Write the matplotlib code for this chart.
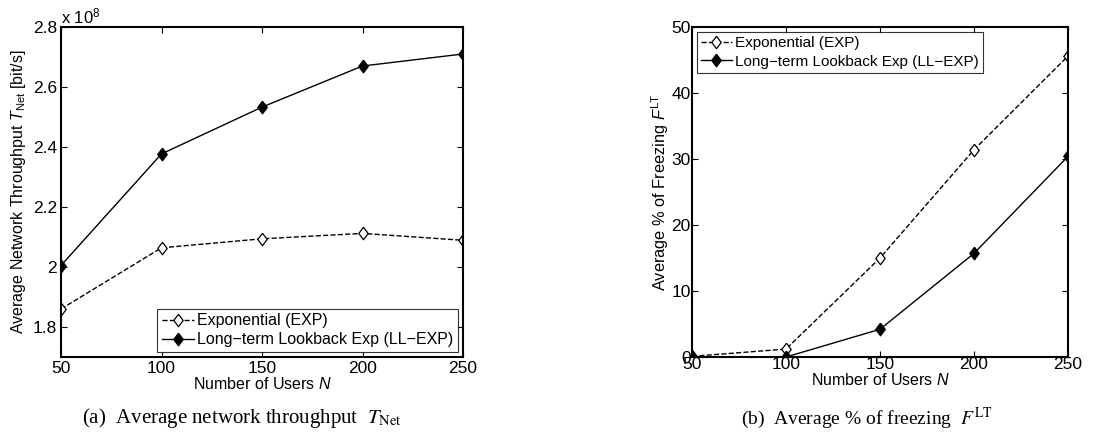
import numpy as np
import matplotlib.pyplot as plt

plt.rcParams['font.family'] = ['Liberation Sans', 'DejaVu Sans']
plt.rcParams['mathtext.fontset'] = 'custom'
plt.rcParams['mathtext.rm'] = 'Liberation Sans'
plt.rcParams['mathtext.it'] = 'Liberation Sans:italic'

users = [50, 100, 150, 200, 250]

# throughput in units of 1e8 bit/s
thr_exp = [1.86, 2.064, 2.094, 2.112, 2.089]
thr_ll = [2.005, 2.377, 2.533, 2.670, 2.710]

# freezing %
frz_exp = [0.1, 1.2, 15.0, 31.4, 45.6]
frz_ll = [0.0, 0.0, 4.2, 15.7, 30.4]

lab_exp = 'Exponential (EXP)'
lab_ll = 'Long\u2212term Lookback Exp (LL\u2212EXP)'

# matlab style diamond (wider than matplotlib 'd')
diamond = [(0, 1), (0.75, 0), (0, -1), (-0.75, 0), (0, 1)]

W, H = 1119, 445
fig = plt.figure(figsize=(W / 100, H / 100), dpi=100)

ax1 = fig.add_axes([61 / W, 88 / H, 402 / W, 330 / H])
ax2 = fig.add_axes([692 / W, 88 / H, 376 / W, 330 / H])


def style(ax):
    for s in ax.spines.values():
        s.set_linewidth(1.5)
    ax.tick_params(direction='in', top=True, right=True, labelsize=12.5,
                   length=4, width=0.8, pad=3)


def draw(ax, y_exp, y_ll):
    ax.plot(users, y_exp, '--', color='black', lw=1.0, marker=diamond,
            markersize=9, markerfacecolor='white', markeredgecolor='black',
            markeredgewidth=0.9, label=lab_exp)
    ax.plot(users, y_ll, '-', color='black', lw=1.0, marker=diamond,
            markersize=9, markerfacecolor='black', markeredgecolor='black',
            label=lab_ll)


draw(ax1, thr_exp, thr_ll)
ax1.set_xlim(50, 250)
ax1.set_ylim(1.7, 2.8)
ax1.set_xticks([50, 100, 150, 200, 250])
ax1.set_yticks([1.8, 2.0, 2.2, 2.4, 2.6, 2.8])
ax1.set_yticklabels(['1.8', '2', '2.2', '2.4', '2.6', '2.8'])
ax1.set_xlabel('Number of Users $\\mathit{N}$', fontsize=11.5, labelpad=0)
ax1.set_ylabel('Average Network Throughput $\\mathit{T}_{\\mathrm{Net}}$ [bit/s]',
               fontsize=11.5, labelpad=3)
ax1.text(0.0, 1.003, 'x 10$^{8}$', transform=ax1.transAxes,
         fontsize=12, ha='left', va='bottom')
style(ax1)
leg1 = ax1.legend(loc='lower right', fontsize=11.5, frameon=True, fancybox=False,
                  edgecolor='black', handlelength=2.0, handletextpad=0.2,
                  borderpad=0.3, labelspacing=0.25, borderaxespad=0.3)
leg1.get_frame().set_linewidth(0.8)

draw(ax2, frz_exp, frz_ll)
ax2.set_xlim(50, 250)
ax2.set_ylim(0, 50)
ax2.set_xticks([50, 100, 150, 200, 250])
ax2.set_yticks([0, 10, 20, 30, 40, 50])
ax2.set_xlabel('Number of Users $\\mathit{N}$', fontsize=11.5, labelpad=0)
ax2.set_ylabel('Average % of Freezing $\\mathit{F}^{\\mathrm{LT}}$',
               fontsize=11.8, labelpad=0)
style(ax2)
ax2.tick_params(axis='x', pad=0)
ax2.tick_params(axis='y', pad=1)
leg2 = ax2.legend(loc='upper left', fontsize=11, frameon=True, fancybox=False,
                  edgecolor='black', handlelength=2.0, handletextpad=0.2,
                  borderpad=0.3, labelspacing=0.3, borderaxespad=0.3)
leg2.get_frame().set_linewidth(0.8)

fig.text(242 / W, 1 - 418 / H, '(a)  Average network throughput  $T_{\\mathrm{Net}}$',
         fontsize=15, family='Liberation Serif', ha='center', va='center',
         math_fontfamily='stix')
fig.text(867 / W, 1 - 418 / H, '(b)  Average % of freezing  $F^{\\mathrm{LT}}$',
         fontsize=14, family='Liberation Serif', ha='center', va='center',
         math_fontfamily='stix')

fig.savefig('out.png', dpi=100)
